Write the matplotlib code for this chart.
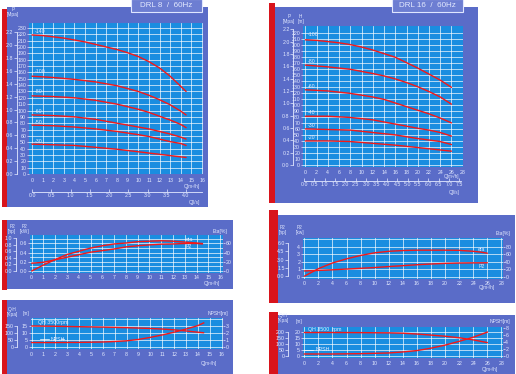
import matplotlib
matplotlib.use('Agg')
import matplotlib.pyplot as plt
from matplotlib.patches import Rectangle

plt.rcParams['font.family'] = ['Liberation Sans', 'DejaVu Sans']

W, H = 516, 374
PURPLE = '#5a6cc8'
BLUE = '#1a8de0'
RED = '#d8141c'
CURVE = '#f41818'
TXT = '#e4eaff'
FS = 3.8

# ================= DATA =================
# --- DRL 8 / 60Hz : H-Q curves ---
q8 = [0, 1, 2, 3, 4, 5, 6, 7, 8, 9, 10, 11, 12, 13, 14, 14.5]
h8_140 = [219, 218, 216, 214, 211, 208, 204, 200, 196, 191, 185, 177, 167, 154, 138, 130]
q8b = [0, 2, 4, 6, 8, 10, 11, 12, 13, 14, 14.5]
h8_100 = [154, 152, 149, 145, 139, 130, 124, 117, 109, 99, 93]
h8_80 = [123, 122, 120, 116, 110, 102, 97, 91, 85, 78, 73]
h8_60 = [93, 92, 90, 86, 80, 74, 71, 67, 63, 58, 55]
h8_50 = [77, 76, 74, 71, 67, 62, 59, 55, 51, 48, 45]
h8_30 = [47, 46, 45, 42, 39, 35, 33, 31, 29, 27, 26]
labels8 = ['-140', '-100', '-80', '-60', '-50', '-30']
label8_h = [224, 161, 130, 99, 81, 51]

# --- DRL 8 : power / efficiency ---
q8p = [0, 1, 2, 3, 4, 5, 6, 7, 8, 9, 10, 11, 12, 13, 14, 14.5]
eta8 = [0, 13, 25, 36, 43, 50, 55, 59, 61, 64, 65, 66, 65, 63, 61, 59]
p2_8 = [0.17, 0.19, 0.245, 0.30, 0.355, 0.41, 0.445, 0.48, 0.525, 0.55, 0.57, 0.585, 0.59, 0.60, 0.60, 0.60]

# --- DRL 8 : QH / NPSH ---
q8n = [0, 2, 4, 6, 7, 8, 9, 10, 11, 12, 13, 14, 14.5]
qh8 = [15, 14.8, 14.5, 14.2, 14.0, 13.8, 13.5, 13.2, 12.8, 12.2, 11.4, 10.5, 10.1]
npsh8 = [0.6, 0.6, 0.62, 0.68, 0.75, 0.85, 1.05, 1.35, 1.7, 2.1, 2.55, 3.05, 3.45]

# --- DRL 16 / 60Hz : H-Q curves ---
q16a = [0, 2, 4, 6, 8, 10, 12, 14, 16, 18, 20, 22, 24, 26]
h16_100 = [208, 207, 205, 203, 200, 196, 191, 185, 179, 170, 161, 151, 141, 129]
q16b = [0, 4, 8, 12, 14, 16, 18, 20, 22, 24, 26]
h16_80 = [166, 163, 159, 152, 148, 143, 137, 130, 122, 113, 101]
h16_60 = [125, 123, 119, 113, 109, 103, 97, 91, 85, 78, 70]
q16c = [0, 4, 8, 12, 16, 20, 22, 24, 26]
h16_40 = [81, 81, 79, 75, 68, 61, 58, 54, 48]
q16d = [0, 4, 8, 12, 16, 20, 24, 26]
h16_30 = [60, 59, 58, 54, 50, 44, 39, 34]
h16_20 = [40, 40, 39, 36, 33, 29, 25, 23]
labels16 = ['-100', '-80', '-60', '-40', '-30', '-20']
label16_h = [217, 172, 130, 87, 65, 45]

# --- DRL 16 : power / efficiency ---
q16p = [0, 1, 2, 4, 6, 8, 10, 12, 14, 16, 18, 20, 22, 24, 25, 26]
eta16 = [2, 12, 22, 37, 48, 57, 64, 68, 70, 71, 71, 71, 70.5, 68, 66, 63]
q16p2 = [0, 2, 4, 6, 8, 10, 12, 14, 16, 18, 20, 22, 24, 26]
p2_16 = [0.8, 0.87, 0.95, 1.05, 1.15, 1.25, 1.38, 1.5, 1.62, 1.72, 1.8, 1.85, 1.87, 1.88]

# --- DRL 16 : QH / NPSH ---
q16n = [0, 4, 8, 12, 14, 16, 18, 20, 22, 24, 26]
qh16 = [19.8, 19.8, 19.7, 19.5, 19.2, 18.5, 17.6, 16.6, 15.3, 13.5, 11.2]
npsh16 = [0.5, 0.5, 0.6, 0.8, 1.1, 1.5, 2.2, 3.1, 4.2, 5.4, 6.9]

# ================= FIGURE =================
fig = plt.figure(figsize=(W / 100, H / 100), dpi=100)
fig.patch.set_facecolor('white')


def rect(x0, y0, x1, y1, color, ec='none', lw=0, z=-5):
    fig.patches.append(Rectangle((x0 / W, 1 - y1 / H), (x1 - x0) / W, (y1 - y0) / H,
                                 transform=fig.transFigure, facecolor=color,
                                 edgecolor=ec, linewidth=lw, zorder=z))


def ftext(x, y, s, ha='center', va='center', fs=FS, **kw):
    fig.text(x / W, 1 - y / H, s, ha=ha, va=va, fontsize=fs, color=TXT,
             linespacing=1.0, **kw)


def axpx(x0, y0, x1, y1):
    return fig.add_axes([x0 / W, 1 - y1 / H, (x1 - x0) / W, (y1 - y0) / H])


def main_axes(box, xlim, ylim, xt, yt, ytl, yminor=None, xpad=2.0):
    ax = axpx(*box)
    ax.set_facecolor(BLUE)
    for s in ax.spines.values():
        s.set_visible(False)
    ax.set_xlim(xlim)
    ax.set_ylim(ylim)
    ax.set_xticks(xt)
    ax.set_xticklabels([str(v) for v in xt])
    ax.set_yticks(yt)
    ax.set_yticklabels(ytl)
    if yminor is not None:
        ax.set_yticks(yminor, minor=True)
    ax.tick_params(axis='x', which='both', length=0, pad=xpad, colors=TXT, labelsize=FS)
    ax.tick_params(axis='y', which='major', length=1.6, width=0.5, pad=0.4,
                   colors=TXT, labelsize=FS)
    ax.tick_params(axis='y', which='minor', length=0)
    ax.grid(True, which='both', color='white', lw=0.55, alpha=0.85)
    ax.set_axisbelow(True)
    return ax


def right_twin(ax, ylim, ticks):
    t = ax.twinx()
    for s in t.spines.values():
        s.set_visible(False)
    t.set_ylim(ylim)
    t.set_yticks(ticks)
    t.set_yticklabels([str(v) for v in ticks])
    t.tick_params(axis='y', length=1.6, width=0.5, pad=0.4, colors=TXT, labelsize=FS)
    return t


def side_axis(x, y0, y1, ylim, ticks, tl, bounds):
    a = axpx(x, y0, x + 1, y1)
    a.patch.set_visible(False)
    for k in ['top', 'right', 'bottom']:
        a.spines[k].set_visible(False)
    a.spines['left'].set_color(TXT)
    a.spines['left'].set_linewidth(0.6)
    a.spines['left'].set_bounds(*bounds)
    a.set_ylim(ylim)
    a.set_yticks(ticks)
    a.set_yticklabels(tl)
    a.set_xticks([])
    a.tick_params(axis='y', colors=TXT, labelsize=FS, length=2, width=0.5, pad=0.6)
    return a


def bottom_axis(x0, x1, y, xlim, ticks, tl, bounds):
    a = axpx(x0, y - 1, x1, y)
    a.patch.set_visible(False)
    for k in ['top', 'right', 'left']:
        a.spines[k].set_visible(False)
    a.spines['bottom'].set_color(TXT)
    a.spines['bottom'].set_linewidth(0.6)
    a.spines['bottom'].set_bounds(*bounds)
    a.set_xlim(xlim)
    a.set_xticks(ticks)
    a.set_xticklabels(tl)
    a.set_yticks([])
    a.tick_params(axis='x', colors=TXT, labelsize=FS, length=2.2, width=0.5,
                  pad=0.8, direction='in')
    return a


def curve(ax, x, y):
    ax.plot(x, y, color=CURVE, lw=1.0, solid_joinstyle='round', solid_capstyle='round', zorder=5)


def clabel(ax, x, y, s, ha='left'):
    ax.text(x, y, s, color=TXT, fontsize=FS, ha=ha, va='center', zorder=6)


# ---------- backgrounds ----------
# left column
rect(7, 7, 208, 207, PURPLE)
rect(2, 9, 7, 207, RED)
rect(7, 220, 233, 289, PURPLE)
rect(2, 220, 7, 290, RED)
rect(7, 300, 233, 374, PURPLE)
rect(2, 300, 7, 374, RED)
# right column
rect(273, 7, 478, 203, PURPLE)
rect(269, 3, 275, 203, RED)
rect(278, 215, 515, 303, PURPLE)
rect(269, 210, 278, 303, RED)
rect(278, 315, 515, 374, PURPLE)
rect(269, 312, 278, 374, RED)
# title boxes
rect(131, -1, 202, 12, '#6d7ed2', ec='#dfe6ff', lw=0.8, z=1)
rect(392, -1, 463, 12, '#6d7ed2', ec='#dfe6ff', lw=0.8, z=1)
ftext(166.5, 5.5, 'DRL 8  /  60Hz', fs=5.8, zorder=2)
ftext(427.5, 5.5, 'DRL 16  /  60Hz', fs=5.8, zorder=2)

# ---------- DRL 8 H-Q ----------
hticks8 = list(range(0, 231, 10))
ax1 = main_axes((29, 23, 203, 174), (-0.28, 16.09), (0, 237.8), list(range(0, 17)),
                hticks8, [str(v) for v in hticks8], xpad=3.0)
curve(ax1, q8, h8_140)
for hv in [h8_100, h8_80, h8_60, h8_50, h8_30]:
    curve(ax1, q8b, hv)
for lbl, hv in zip(labels8, label8_h):
    clabel(ax1, 0.25, hv, lbl)
pt8 = [round(0.2 * i, 1) for i in range(12)]
side_axis(17, 23, 174, (0, 2.345), pt8, ['%.1f' % v for v in pt8], (0, 2.2))
ls8 = [0.5 * i for i in range(9)]
bottom_axis(29, 203, 192, (-0.078, 4.44), ls8, ['%.1f' % v for v in ls8], (0, 4.41))
ftext(13, 12, 'P\n[Mpa]', fs=3.4)
ftext(192, 186.5, 'Q[m³/h]', fs=3.4)
ftext(194, 202, 'Q[l/s]', fs=3.4)

# ---------- DRL 16 H-Q ----------
hticks16 = list(range(0, 221, 10))
ax4 = main_axes((303, 26, 463.3, 167), (-0.41, 28.1), (-3.3, 230.9), list(range(0, 29, 2)),
                hticks16, [str(v) for v in hticks16], xpad=1.8)
curve(ax4, q16a, h16_100)
curve(ax4, q16b, h16_80)
curve(ax4, q16b, h16_60)
curve(ax4, q16c, h16_40)
curve(ax4, q16d, h16_30)
curve(ax4, q16d, h16_20)
for lbl, hv in zip(labels16, label16_h):
    clabel(ax4, 0.4, hv, lbl)
pt16 = [round(0.2 * i, 1) for i in range(12)]
side_axis(293.3, 26, 167, (-0.032, 2.253), pt16, ['%.1f' % v for v in pt16], (0, 2.2))
ls16 = [0.5 * i for i in range(16)]
bottom_axis(303, 463.3, 181, (-0.05, 7.69), ls16, ['%.1f' % v for v in ls16], (0, 7.6))
ftext(289, 19, 'P\n[Mpa]', fs=3.4)
ftext(300.5, 19, 'H\n[m]', fs=3.4)
ftext(452, 176.5, 'Q[m³/h]', fs=3.3)
ftext(454, 192.5, 'Q[l/s]', fs=3.3)

# ---------- DRL 8 power / eta ----------
ax2 = main_axes((30, 235, 222.5, 272.7), (-0.14, 16.2), (-0.037, 0.785), list(range(0, 17)),
                [0, 0.2, 0.4, 0.6], ['0.0', '0.2', '0.4', '0.6'], yminor=[0.1, 0.3, 0.5, 0.7])
t2 = right_twin(ax2, (-3.7, 78.5), [0, 20, 40, 60])
curve(ax2, q8p, [e / 100 for e in eta8])
curve(ax2, q8p, p2_8)
clabel(ax2, 13.1, 0.69, 'eta')
clabel(ax2, 13.1, 0.53, 'P2')
hp8 = [0.0, 0.2, 0.4, 0.6, 0.8, 1.0]
side_axis(16, 235, 272.7, (-0.05, 1.09), hp8, ['%.1f' % v for v in hp8], (0, 1.0))
ftext(12, 229, 'P2\n[hp]', fs=3.4)
ftext(25, 229, 'P2\n[kW]', fs=3.4)
ftext(220, 231, 'Eta[%]', fs=3.6)
ftext(212, 283.5, 'Q[m³/h]', fs=3.4)

# ---------- DRL 8 QH / NPSH ----------
ax3 = main_axes((30.7, 318, 222.7, 349.3), (-0.08, 16.1), (-1.9, 20.8), list(range(0, 17)),
                [0, 5, 10, 15], ['0', '5', '10', '15'], yminor=[20])
t3 = right_twin(ax3, (-0.38, 4.16), [0, 1, 2, 3])
curve(ax3, q8n, qh8)
t3.plot(q8n, npsh8, color=CURVE, lw=1.0, solid_joinstyle='round', zorder=5)
clabel(ax3, 0.55, 17.4, 'QH 3500rpm')
clabel(ax3, 1.6, 5.4, 'NPSH')
ax3.plot([0.7, 1.5], [5.4, 5.4], color='white', lw=0.5)
ax3.plot([2.45, 2.75], [5.4, 5.4], color='white', lw=0.5)
side_axis(17, 318, 349.3, (-19, 208), [0, 50, 100, 150], ['0', '50', '100', '150'], (0, 150))
ftext(12, 312, 'Q-H\n[Kpa]', fs=3.4)
ftext(26, 314, '[m]', fs=3.4)
ftext(218, 314, 'NPSH[m]', fs=3.6)
ftext(209, 363, 'Q[m³/h]', fs=3.4)

# ---------- DRL 16 power / eta ----------
ax5 = main_axes((303, 237.7, 502.5, 278.5), (-0.18, 28.15), (-0.2, 5.2), list(range(0, 29, 2)),
                [0, 1, 2, 3, 4], ['0', '1', '2', '3', '4'], yminor=[5], xpad=1.5)
t5 = right_twin(ax5, (-4, 104), [0, 20, 40, 60, 80])
curve(ax5, q16p, [e / 20 for e in eta16])
curve(ax5, q16p2, p2_16)
clabel(ax5, 24.6, 3.65, 'eta')
clabel(ax5, 24.8, 1.45, 'P2')
hp16 = [0.0, 1.5, 3.0, 4.5, 6.0]
side_axis(288.3, 237.7, 278.5, (-0.46, 7.03), hp16, ['%.1f' % v for v in hp16], (0, 6.0))
ftext(282.5, 230, 'P2\n[hp]', fs=3.4)
ftext(299.5, 230, 'P2\n[kw]', fs=3.4)
ftext(503, 234, 'Eta[%]', fs=3.6)
ftext(487, 287, 'Q[m³/h]', fs=3.4)

# ---------- DRL 16 QH / NPSH ----------
ax6 = main_axes((303, 327, 502.5, 358), (-0.18, 28.15), (-1.97, 24.5), list(range(0, 29, 2)),
                [0, 5, 10, 15, 20], ['0', '5', '10', '15', '20'], xpad=2.2)
t6 = right_twin(ax6, (-0.67, 8.39), [0, 2, 4, 6, 8])
curve(ax6, q16n, qh16)
t6.plot(q16n, npsh16, color=CURVE, lw=1.0, solid_joinstyle='round', zorder=5)
clabel(ax6, 0.5, 22.3, 'QH 3500  rpm')
clabel(ax6, 1.6, 5.0, 'NPSH')
ax6.plot([-0.1, 1.3], [5.0, 5.0], color='white', lw=0.5)
side_axis(288, 327, 358, (-19.7, 245), [0, 50, 100, 150, 200],
          ['0', '50', '100', '150', '200'], (0, 200))
ftext(283, 318, 'Q-H\n[Kpa]', fs=3.4)
ftext(299.5, 321, '[m]', fs=3.4)
ftext(500, 321, 'NPSH[m]', fs=3.6)
ftext(490, 369.5, 'Q[m³/h]', fs=3.4)

fig.savefig('out.png', dpi=100, facecolor='white')
